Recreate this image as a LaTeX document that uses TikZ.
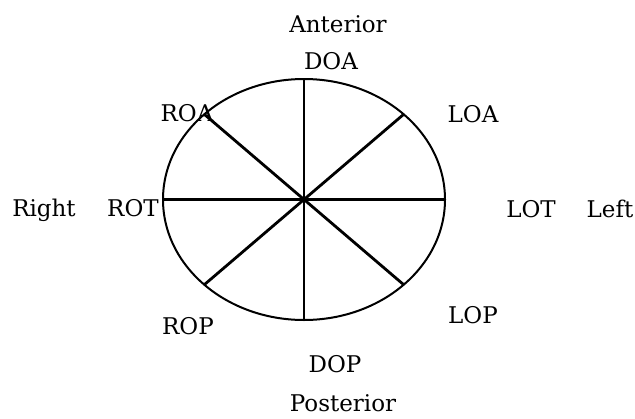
\documentclass[tikz,border=0pt]{standalone}
\usepackage{fontspec}
\setmainfont{DejaVu Serif}
\usetikzlibrary{calc}
\begin{document}
\begin{tikzpicture}[x=1pt,y=-1pt,
  lbl/.style={anchor=base,inner sep=0pt,font=\fontsize{23}{27}\selectfont},
  rim/.style={line width=2pt},
  spoke/.style={line width=2.8pt}]
\useasboundingbox (0,0) rectangle (635,418);
\coordinate (c) at (304,199.5);
\draw[rim] (c) ellipse [x radius=141, y radius=120.5];
\coordinate (t) at ($(c)+(0,-120.5)$);
\coordinate (b) at ($(c)+(0,120.5)$);
\coordinate (l) at ($(c)+(-141,0)$);
\coordinate (r) at ($(c)+(141,0)$);
\coordinate (tl) at ($(c)+({-141*cos(45)},{-120.5*sin(45)})$);
\coordinate (tr) at ($(c)+({141*cos(45)},{-120.5*sin(45)})$);
\coordinate (bl) at ($(c)+({-141*cos(45)},{120.5*sin(45)})$);
\coordinate (br) at ($(c)+({141*cos(45)},{120.5*sin(45)})$);
\draw[spoke] (t) -- (b);
\draw[spoke] (l) -- (r);
\draw[spoke] (tl) -- (br);
\draw[spoke] (tr) -- (bl);
\node[lbl] (ant) at (338,32) {Anterior};
\node[lbl] (doa) at (331,69) {DOA};
\node[lbl] (roa) at (187,121) {ROA};
\node[lbl] (loa) at (473,122) {LOA};
\node[lbl] (right) at (44,216) {Right};
\node[lbl] (rot) at (133,216) {ROT};
\node[lbl] (lot) at (531,217) {LOT};
\node[lbl] (left) at (610,217) {Left};
\node[lbl] (rop) at (188,334) {ROP};
\node[lbl] (lop) at (473,323) {LOP};
\node[lbl] (dop) at (335,372) {DOP};
\node[lbl] (post) at (343,411) {Posterior};
\end{tikzpicture}
\end{document}
